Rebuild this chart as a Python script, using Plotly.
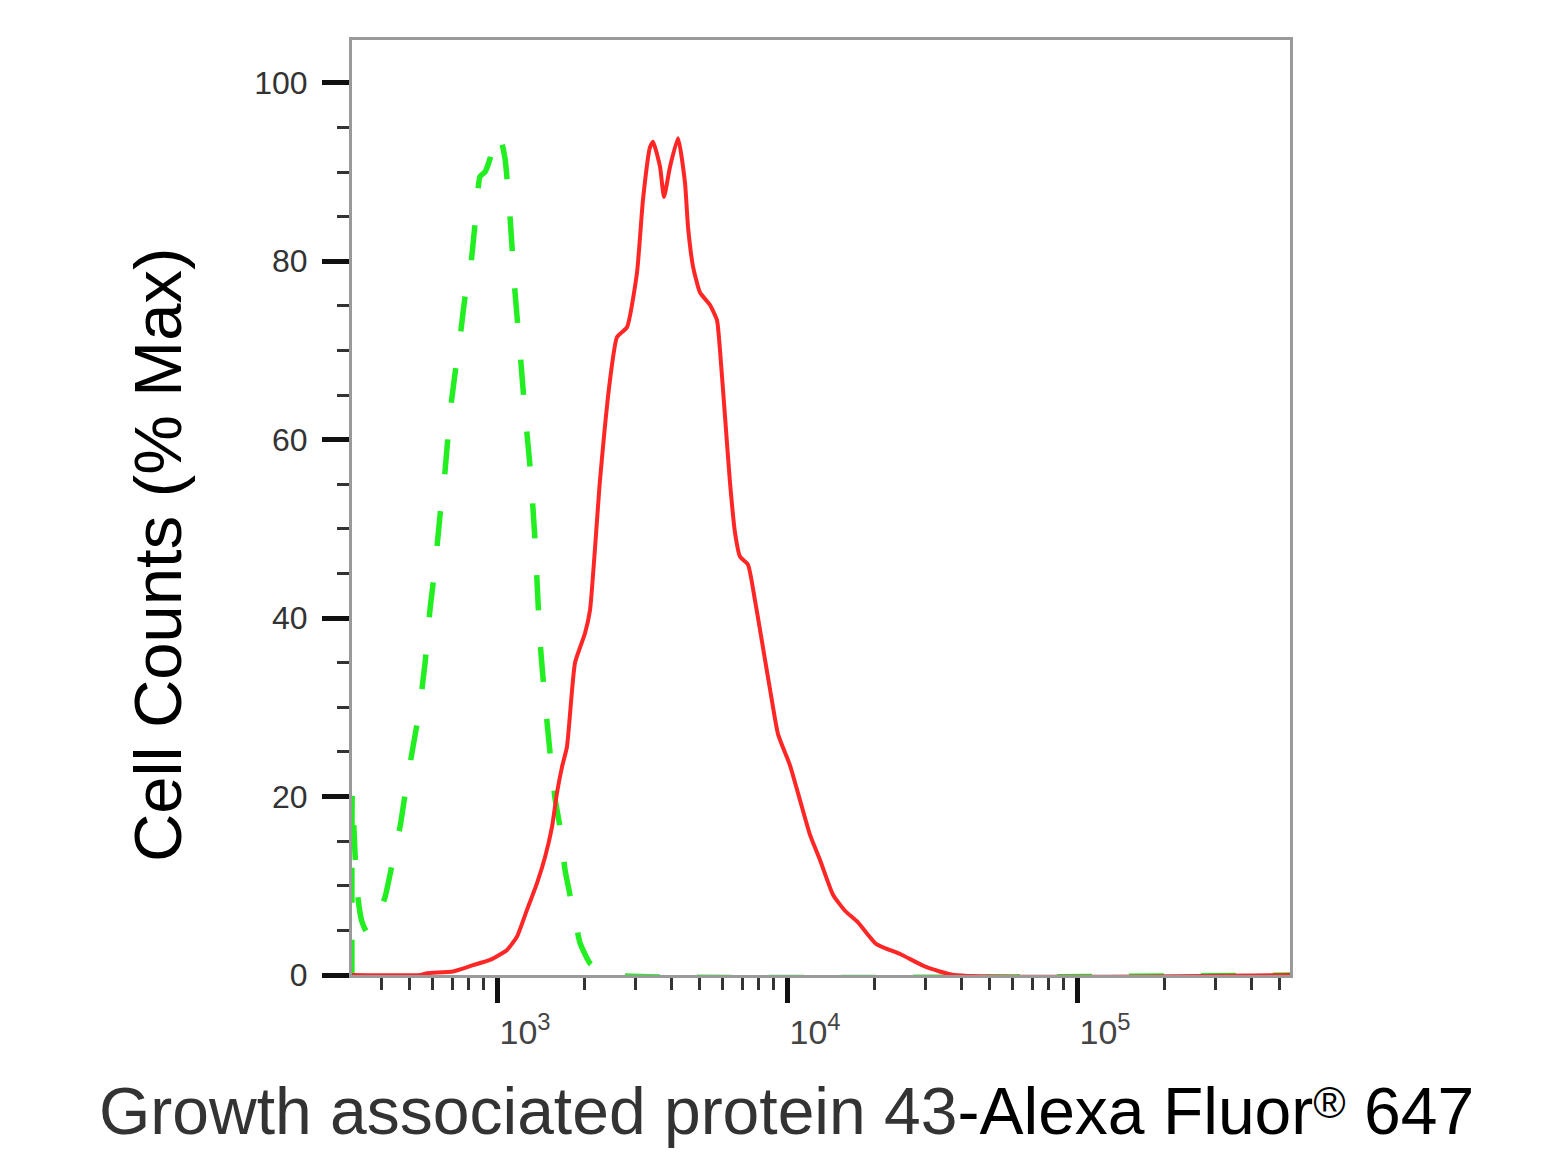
import plotly.graph_objects as go

# control (isotype) histogram, dashed green
control_x = [316, 317, 324, 332, 342, 356, 371, 389, 411, 438, 463, 486, 509, 538, 565,
             588, 611, 636, 662, 689, 717, 746, 776, 807, 839, 874, 909, 946, 984, 1000,
             1024, 1066, 1109, 1154, 1200, 1249, 1300, 1352, 1407, 1464, 1523, 1585, 1649,
             1716, 1785, 1858, 1933, 2093, 2266, 2450, 545000]
control_y = [0, 20.5, 13.5, 8.5, 6, 4.8, 5.4, 6.8, 8.7, 12.9, 16.6, 21, 24.9, 29.4, 35,
             41.1, 45.6, 51.5, 56.5, 63, 67.5, 71.5, 76, 78.8, 84, 89.5, 90, 91.5, 94, 94.3,
             94, 91.5, 85, 76.5, 70, 63, 57, 48.8, 37.5, 30.7, 25, 19.8, 16.6,
             11.8, 9, 6.3, 3.6, 1.3, 0.5, 0, 0]

# sample histogram, solid red
sample_x = [316, 543, 574, 705, 826, 946, 1049, 1083, 1172, 1269, 1374, 1464, 1548, 1610,
            1675, 1743, 1858, 2011, 2093, 2266, 2453, 2593, 2807, 3039, 3187, 3370, 3451,
            3648, 3766, 3951, 4209, 4449, 4556, 4742, 5012, 5427, 5735, 5875, 6113, 6360,
            6617, 6884, 7336, 7756, 8070, 8741, 9311, 10240, 11087, 12005, 12997, 14410,
            15849, 17567, 20273, 24729, 30158, 37660, 545000]
sample_y = [0, 0, 0.2, 0.4, 1.1, 1.7, 2.5, 2.8, 4.3, 7.3, 10.3, 13.2, 16.6, 20.4,
            23.3, 25.6, 35, 38.3, 40.9, 55.5, 66.7, 71.5, 72.6, 78.7, 86.9, 92.8, 93.4,
            90.6, 87.2, 90.6, 93.8, 88.8, 83.9, 79.4, 76.5, 75.1, 73.4, 70, 62.6, 55.2,
            49.6, 46.9, 46, 42, 38.7, 32, 27, 23.5, 19.6, 15.7, 12.9, 9,
            7.2, 5.9, 3.5, 2.3, 0.9, 0, 0]

x_major = [1e3, 1e4, 1e5]
x_major_text = ["10<sup>3</sup>", "10<sup>4</sup>", "10<sup>5</sup>"]
y_major = [0, 20, 40, 60, 80, 100]

x_minor = [m * 10 ** e for e in (2, 3, 4, 5) for m in range(2, 10)]
x_minor = [v for v in x_minor if 316 <= v <= 545000]

fig = go.Figure()
fig.add_trace(go.Scatter(x=control_x, y=control_y, mode="lines",
                         line=dict(color="#22ee22", width=5.5, dash="35px,37px",
                                   shape="spline", smoothing=0.5)))
fig.add_trace(go.Scatter(x=sample_x, y=sample_y, mode="lines",
                         line=dict(color="#ff2626", width=4,
                                   shape="spline", smoothing=0.5)))

fig.update_xaxes(type="log", range=[2.5, 5.7345],
                 tickvals=x_major, ticktext=x_major_text,
                 ticks="outside", ticklen=25, tickwidth=5, tickcolor="#111",
                 ticklabelshift=28,
                 tickfont=dict(family="Liberation Sans, Arial", size=34, color="#444"),
                 minor=dict(tickvals=x_minor, ticks="outside", ticklen=12, tickwidth=3,
                            tickcolor="#333"),
                 showline=True, linecolor="#9a9a9a", linewidth=3, mirror=True,
                 showgrid=False, zeroline=False)
fig.update_yaxes(range=[0, 104.8], tickvals=y_major,
                 ticks="outside", ticklen=27, tickwidth=5, tickcolor="#111",
                 ticklabelstandoff=8,
                 tickfont=dict(family="Liberation Sans, Arial", size=32, color="#333"),
                 minor=dict(dtick=5, ticks="outside", ticklen=12, tickwidth=3,
                            tickcolor="#333"),
                 showline=True, linecolor="#9a9a9a", linewidth=3, mirror=True,
                 showgrid=False, zeroline=False)

fig.add_annotation(text="Cell Counts (% Max)", textangle=-90,
                   xref="paper", yref="paper", x=-0.208, y=0.449,
                   xanchor="center", yanchor="middle", showarrow=False,
                   font=dict(family="Liberation Sans, Arial", size=67, color="#000"))
fig.add_annotation(text="<span style='color:#333'>Growth associated protein 43</span>"
                        "-Alexa Fluor<span style='font-size:44px;baseline-shift:16px'>®</span> 647",
                   xref="paper", yref="paper", x=0.4627, y=-0.1453,
                   xanchor="center", yanchor="middle", showarrow=False,
                   font=dict(family="Liberation Sans, Arial", size=66, color="#000"))

# page body has an 8px margin, so the figure is sized to fit the window
fig.update_layout(width=1549, height=1143, showlegend=False,
                  margin=dict(l=344, r=267, t=32, b=176),
                  plot_bgcolor="white", paper_bgcolor="white")

fig.write_html("out.html")
